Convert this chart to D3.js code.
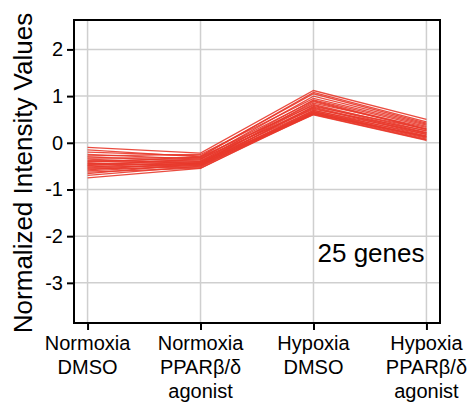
<!DOCTYPE html>
<html>
<head>
<meta charset="utf-8">
<script src="https://cdn.jsdelivr.net/npm/d3@7"></script>
<style>
  body { margin: 0; background: #fff; }
  text { font-family: "Liberation Sans", Arial, sans-serif; }
</style>
</head>
<body>
<div id="chart"></div>
<script>
const categories = ["Normoxia DMSO", "Normoxia PPAR agonist", "Hypoxia DMSO", "Hypoxia PPAR agonist"];
const catLabels = [["Normoxia", "DMSO"], ["Normoxia", "PPARβ/δ", "agonist"], ["Hypoxia", "DMSO"], ["Hypoxia", "PPARβ/δ", "agonist"]];
const yTicks = [-3, -2, -1, 0, 1, 2];

// one value per gene (25 genes) for each condition
const normoxiaDmso = [-0.10, -0.15, -0.20, -0.25, -0.28, -0.30, -0.33, -0.35, -0.38, -0.40, -0.42, -0.44, -0.45,
  -0.47, -0.49, -0.50, -0.52, -0.54, -0.56, -0.58, -0.60, -0.63, -0.66, -0.70, -0.75];
const normoxiaAgonist = [-0.22, -0.30, -0.28, -0.35, -0.25, -0.40, -0.32, -0.45, -0.36, -0.42, -0.30, -0.48, -0.38,
  -0.44, -0.34, -0.50, -0.40, -0.46, -0.52, -0.42, -0.48, -0.54, -0.44, -0.50, -0.55];
const hypoxiaDmso = [1.12, 1.08, 1.05, 1.00, 0.95, 0.92, 0.90, 0.88, 0.85, 0.82, 0.80, 0.78, 0.76,
  0.74, 0.72, 0.70, 0.69, 0.67, 0.66, 0.64, 0.63, 0.62, 0.61, 0.60, 0.65];
const hypoxiaAgonist = [0.50, 0.45, 0.42, 0.40, 0.38, 0.35, 0.30, 0.28, 0.33, 0.25, 0.22, 0.30, 0.20,
  0.18, 0.26, 0.15, 0.22, 0.12, 0.18, 0.10, 0.08, 0.14, 0.06, 0.05, 0.12];

const genes = normoxiaDmso.map((v, i) => [v, normoxiaAgonist[i], hypoxiaDmso[i], hypoxiaAgonist[i]]);

const width = 473, height = 407;
const margin = { top: 20, right: 33, bottom: 84, left: 74 };
const iwidth = width - margin.left - margin.right,
  iheight = height - margin.top - margin.bottom;

const svg = d3.select("#chart")
  .append("svg")
  .attr("width", width)
  .attr("height", height)
  .append("g")
  .attr("transform", `translate(${margin.left},${margin.top})`);

const x = d3.scalePoint() // x scale
  .domain(categories)
  .range([0, iwidth])
  .padding(0.12);

const y = d3.scaleLinear() // y scale
  .domain([-3.86, 2.63])
  .range([iheight, 0]);

// grid
svg.append("g")
  .selectAll("line")
  .data(yTicks)
  .join("line")
  .attr("x1", 0).attr("x2", iwidth)
  .attr("y1", d => y(d)).attr("y2", d => y(d))
  .attr("stroke", "#cfcfcf").attr("stroke-width", 1.5);

svg.append("g")
  .selectAll("line")
  .data(categories)
  .join("line")
  .attr("x1", d => x(d)).attr("x2", d => x(d))
  .attr("y1", 0).attr("y2", iheight)
  .attr("stroke", "#cfcfcf").attr("stroke-width", 1.5);

// gene lines
const line = d3.line()
  .x((d, i) => x(categories[i]))
  .y(d => y(d));

svg.append("g")
  .selectAll("path")
  .data(genes)
  .join("path")
  .attr("d", line)
  .attr("fill", "none")
  .attr("stroke", "#e8392b")
  .attr("stroke-width", 1.3)
  .attr("stroke-opacity", 0.9);

// frame
svg.append("rect")
  .attr("width", iwidth)
  .attr("height", iheight)
  .attr("fill", "none")
  .attr("stroke", "#000")
  .attr("stroke-width", 2);

// Y axis
const yAxis = svg.append("g")
  .call(d3.axisLeft(y).tickValues(yTicks).tickSize(7).tickPadding(4));
yAxis.select(".domain").remove();
yAxis.selectAll(".tick line").attr("stroke", "#000").attr("stroke-width", 2);
yAxis.selectAll(".tick text")
  .attr("font-size", 20)
  .attr("font-family", "'Liberation Sans', Arial, sans-serif")
  .attr("fill", "#000")
  .text(d => d < 0 ? "-" + Math.abs(d) : d);

// X axis
const xAxis = svg.append("g")
  .attr("transform", `translate(0,${iheight})`)
  .call(d3.axisBottom(x).tickSize(7).tickFormat(""));
xAxis.select(".domain").remove();
xAxis.selectAll(".tick line").attr("stroke", "#000").attr("stroke-width", 2);

svg.append("g")
  .selectAll("text")
  .data(categories)
  .join("text")
  .attr("x", d => x(d))
  .attr("y", iheight + 27)
  .attr("text-anchor", "middle")
  .attr("font-size", 20)
  .attr("fill", "#000")
  .selectAll("tspan")
  .data((d, i) => catLabels[i])
  .join("tspan")
  .attr("x", function() { return this.parentNode.getAttribute("x"); })
  .attr("dy", (d, i) => i === 0 ? 0 : 24)
  .text(d => d);

// Y axis label
svg.append("text")
  .attr("transform", "rotate(-90)")
  .attr("x", -(173 - margin.top))
  .attr("y", 32 - margin.left)
  .attr("text-anchor", "middle")
  .attr("font-size", 26)
  .attr("fill", "#000")
  .text("Normalized Intensity Values");

// count label
svg.append("text")
  .attr("x", 371 - margin.left)
  .attr("y", 262 - margin.top)
  .attr("text-anchor", "middle")
  .attr("font-size", 26)
  .attr("fill", "#000")
  .text("25 genes");
</script>
</body>
</html>
